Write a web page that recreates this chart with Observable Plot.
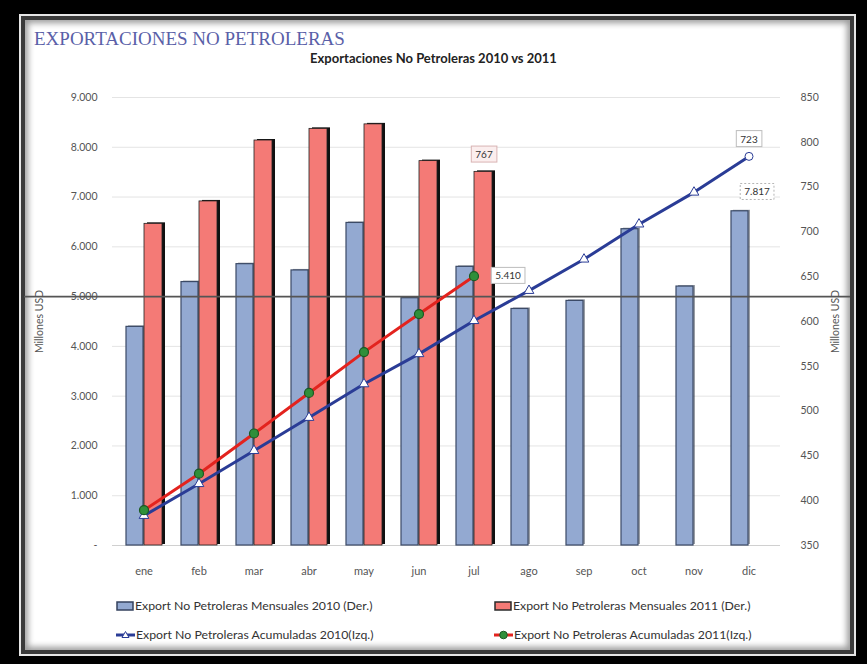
<!DOCTYPE html>
<html>
<head>
<meta charset="utf-8">
<script src="https://cdn.jsdelivr.net/npm/d3@7"></script>
<script src="https://cdn.jsdelivr.net/npm/@observablehq/plot@0.6"></script>
<style>
  html, body { margin: 0; padding: 0; }
  body { width: 867px; height: 664px; background: #000; position: relative; overflow: hidden; font-family: Lato, "Open Sans", sans-serif; }
  #frame { position: absolute; left: 19px; top: 14px; width: 833px; height: 638px; border: 2px solid #e6e6e6; }
  #inner { position: absolute; left: 0; top: 0; right: 0; bottom: 0; border: 4px solid #3a3a3a; background: #fff; box-shadow: inset 0 0 6px 3px #9a9a9a; }
  #head { position: absolute; left: 34px; top: 28px; font-family: "Liberation Serif", "DejaVu Serif", serif; font-size: 19px; color: #5a5fa8; letter-spacing: 0px; }
  #title { position: absolute; left: 0; width: 867px; top: 50px; text-align: center; font-weight: bold; font-size: 13px; color: #222; }
  #chart { position: absolute; left: 20px; top: 80px; }
  .leg { position: absolute; font-size: 12.3px; color: #333; display: flex; align-items: center; white-space: nowrap; }
  .leg svg { margin-right: 1px; }
</style>
</head>
<body>
<div id="frame"><div id="inner"></div></div>
<div id="head">EXPORTACIONES NO PETROLERAS</div>
<div id="title">Exportaciones No Petroleras 2010 vs 2011</div>
<div id="chart"></div>
<div class="leg" style="left:116px; top:598px;">
  <svg width="18" height="12"><rect x="1" y="2" width="16" height="8" fill="#93a9d1" stroke="#34425e" stroke-width="1.5"/></svg>Export No Petroleras Mensuales 2010 (Der.)
</div>
<div class="leg" style="left:494px; top:598px;">
  <svg width="18" height="12"><rect x="1" y="2" width="16" height="8" fill="#f47a76" stroke="#2a2a2a" stroke-width="1.5"/></svg>Export No Petroleras Mensuales 2011 (Der.)
</div>
<div class="leg" style="left:116px; top:627px;">
  <svg width="19" height="12"><line x1="0" y1="6" x2="19" y2="6" stroke="#2a3c96" stroke-width="3"/><path d="M9.5,2.5 L13,8.5 L6,8.5 Z" fill="#fff" stroke="#2a3c96" stroke-width="1"/></svg>Export No Petroleras Acumuladas 2010(Izq.)
</div>
<div class="leg" style="left:494px; top:627px;">
  <svg width="19" height="12"><line x1="0" y1="6" x2="19" y2="6" stroke="#e3231e" stroke-width="3"/><circle cx="9.5" cy="6" r="3.8" fill="#2f8f3a" stroke="#1a5a22" stroke-width="1"/></svg>Export No Petroleras Acumuladas 2011(Izq.)
</div>
<script>
// ---- data ----
const months = ["ene","feb","mar","abr","may","jun","jul","ago","sep","oct","nov","dic"];
const mensual2010 = [594, 644, 664, 657, 710, 626, 661, 614, 623, 703, 639, 723];   // right axis
const mensual2011 = [709, 734, 802, 815, 820, 779, 767];                            // right axis
const acum2010 = [600, 1240, 1905, 2570, 3245, 3850, 4515, 5120, 5750, 6455, 7095, 7817]; // left axis
const acum2011 = [709, 1443, 2250, 3065, 3885, 4650, 5410];                         // left axis
const leftTicks = [0,1000,2000,3000,4000,5000,6000,7000,8000,9000];
const rightTicks = [350,400,450,500,550,600,650,700,750,800,850];
const refLine = [5000];

// ---- scales mapping ----
const leftMax = 9000, rMin = 350, rMax = 850;
const toLeft = v => (v - rMin) * leftMax / (rMax - rMin);
const fromLeft = v => v * (rMax - rMin) / leftMax + rMin;
const fmtES = d => d === 0 ? "-" : d3.format(",")(d).replace(/,/g, ".");

const bars10 = months.map((m, i) => ({m, v: toLeft(mensual2010[i])}));
const bars11 = mensual2011.map((v, i) => ({m: months[i], v: toLeft(v)}));
const line10 = acum2010.map((v, i) => ({m: months[i], v}));
const line11 = acum2011.map((v, i) => ({m: months[i], v}));
const last10 = line10.length - 1, last11 = line11.length - 1;

const lblBar11 = [{m: months[last11], v: toLeft(mensual2011[last11]), t: String(mensual2011[last11])}];
const lblLine11 = [{m: months[last11], v: acum2011[last11], t: fmtES(acum2011[last11])}];
const lblLine10 = [{m: months[last10], v: acum2010[last10], t: String(mensual2010[last10])}];
const lblBar10 = [{m: months[last10], v: toLeft(mensual2010[last10]), t: fmtES(acum2010[last10])}];

const plot = Plot.plot({
  width: 830,
  height: 505,
  marginLeft: 92,
  marginRight: 70,
  marginTop: 17,
  marginBottom: 40,
  style: {fontFamily: "Lato, 'Open Sans', sans-serif", fontSize: "10px", color: "#555", background: "transparent"},
  x: {type: "band", domain: months, padding: 0},
  y: {domain: [0, leftMax]},
  marks: [
    Plot.gridY(leftTicks, {stroke: "#d8d8d8", strokeOpacity: 0.7}),
    Plot.ruleY([0], {stroke: "#d0d0d0"}),
    Plot.axisX({tickSize: 0, tickPadding: 22, fontSize: 11, color: "#555", label: null}),
    Plot.axisY(leftTicks, {anchor: "left", tickSize: 0, tickPadding: 15, tickFormat: fmtES,
      label: "Millones USD", labelAnchor: "center", labelArrow: "none", labelOffset: 77, fontSize: 10.5}),
    Plot.axisY(rightTicks.map(toLeft), {anchor: "right", tickSize: 0, tickPadding: 20,
      tickFormat: d => String(Math.round(fromLeft(d))), textAnchor: "start",
      label: "Millones USD", labelAnchor: "center", labelArrow: "none", labelOffset: 58, fontSize: 10.5}),
    // 2010 monthly bars
    Plot.barY(bars10, {x: "m", y: "v", fill: "#1c2535", fillOpacity: 0.45, insetLeft: 12, insetRight: 26, dy: -1}),
    Plot.barY(bars10, {x: "m", y: "v", fill: "#93a9d1", stroke: "#3b4a66", strokeWidth: 1.2, insetLeft: 10, insetRight: 28}),
    // 2011 monthly bars
    Plot.barY(bars11, {x: "m", y: "v", fill: "#111", insetLeft: 31, insetRight: 6, dy: -1}),
    Plot.barY(bars11, {x: "m", y: "v", fill: "#f47a76", stroke: "#222", strokeWidth: 0.8, insetLeft: 28, insetRight: 9}),
    // reference line
    Plot.ruleY(refLine, {stroke: "#555", strokeWidth: 1.6, insetLeft: -88, insetRight: -78}),
    // cumulative lines
    Plot.line(line10, {x: "m", y: "v", stroke: "#2a3c96", strokeWidth: 3}),
    Plot.dot(line10.slice(0, last10), {x: "m", y: "v", symbol: "triangle", r: 3.6, fill: "#fff", stroke: "#2a3c96", strokeWidth: 1}),
    Plot.dot(line10.slice(last10), {x: "m", y: "v", r: 4, fill: "#fff", stroke: "#2a3c96", strokeWidth: 1}),
    Plot.line(line11, {x: "m", y: "v", stroke: "#e3231e", strokeWidth: 3}),
    Plot.dot(line11, {x: "m", y: "v", r: 4.5, fill: "#2f8f3a", stroke: "#1a5a22", strokeWidth: 1.2}),
    // data labels
    Plot.text(lblBar11, {x: "m", y: "v", text: "t", dx: 10, dy: -17, fill: "#333", fontSize: 10, ariaDescription: "lbl-pink"}),
    Plot.text(lblLine11, {x: "m", y: "v", text: "t", dx: 34, dy: 0, fill: "#333", fontSize: 10, ariaDescription: "lbl-gray"}),
    Plot.text(lblLine10, {x: "m", y: "v", text: "t", dx: 0, dy: -17, fill: "#333", fontSize: 10, ariaDescription: "lbl-gray"}),
    Plot.text(lblBar10, {x: "m", y: "v", text: "t", dx: 8, dy: -19, fill: "#333", fontSize: 10, ariaDescription: "lbl-dash"})
  ]
});
document.getElementById("chart").appendChild(plot);

// boxes behind data labels
const boxStyles = {
  "lbl-pink": {fill: "#fbeeee", stroke: "#d9b3b3", dash: null},
  "lbl-gray": {fill: "#fff", stroke: "#bdbdbd", dash: null},
  "lbl-dash": {fill: "#fff", stroke: "#b5b5b5", dash: "2,2"}
};
for (const [name, st] of Object.entries(boxStyles)) {
  plot.querySelectorAll(`g[aria-description="${name}"]`).forEach(g => {
    g.querySelectorAll("text").forEach(t => {
      const b = t.getBBox();
      const r = document.createElementNS("http://www.w3.org/2000/svg", "rect");
      r.setAttribute("x", b.x - 4);
      r.setAttribute("y", b.y - 2);
      r.setAttribute("width", b.width + 8);
      r.setAttribute("height", b.height + 4);
      r.setAttribute("fill", st.fill);
      r.setAttribute("stroke", st.stroke);
      if (st.dash) r.setAttribute("stroke-dasharray", st.dash);
      const tr = t.getAttribute("transform");
      if (tr) r.setAttribute("transform", tr);
      t.parentNode.insertBefore(r, t);
    });
  });
}
</script>
</body>
</html>
